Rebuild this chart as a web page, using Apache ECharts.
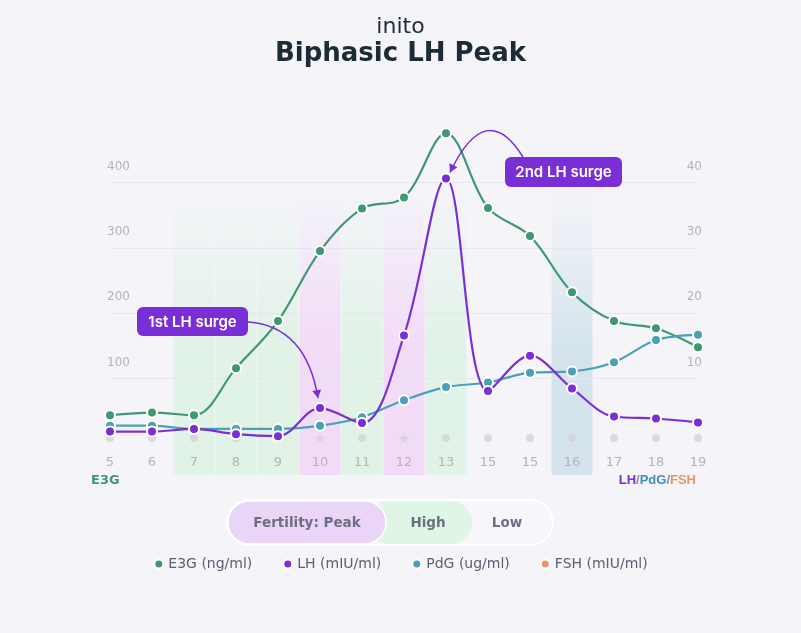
<!DOCTYPE html>
<html>
<head>
<meta charset="utf-8">
<script src="https://cdn.jsdelivr.net/npm/echarts@6/dist/echarts.min.js"></script>
<style>
  html, body { margin: 0; padding: 0; background: #f4f4f9; }
  #chart { width: 801px; height: 633px; }
</style>
</head>
<body>
<div id="chart"></div>
<script>
// cycle days shown on the x axis (15 appears twice in the source)
const days = ['5', '6', '7', '8', '9', '10', '11', '12', '13', '15', '15', '16', '17', '18', '19']
const e3g = [44, 48, 44, 116, 188, 295, 360, 377, 475, 361, 318, 232, 188, 177, 148]
const lh = [1.9, 1.9, 2.3, 1.5, 1.2, 5.5, 3.2, 16.6, 40.6, 8.1, 13.5, 8.5, 4.2, 3.9, 3.3]
const pdg = [2.8, 2.8, 2.3, 2.3, 2.3, 2.8, 4.1, 6.7, 8.7, 9.4, 10.9, 11.1, 12.5, 15.9, 16.7]
const fsh = []
// fertility level per day: '' none, 'high', 'peak', 'low'
const fertility = ['', '', 'high', 'high', 'high', 'peak', 'high', 'peak', 'high', '', '', 'low', '', '', '']
const testMarks = [9, 9, 9, 9, 9, 9, 9, 9, 9, 9, 9, 9, 9, 9, 9]
const leftTicks = [0, 500, 100]
const rightTicks = [0, 50, 10]
// LH surges that get a callout: day index on the axis
const surges = [{ idx: 5, text: '1st LH surge' }, { idx: 8, text: '2nd LH surge' }]

const C = {
  e3g: '#3f9873', lh: '#7a2ed6', pdg: '#4aa0b6', fsh: '#e8956b',
  grid: '#e6e7ee', label: '#b2b4be', text: '#6c7083'
}
const FONT = 'DejaVu Sans'

const bandColor = {
  high: ['rgba(225,242,231,0)', 'rgba(225,242,231,1)'],
  peak: ['rgba(242,219,247,0)', 'rgba(242,219,247,1)'],
  low: ['rgba(213,228,236,0)', 'rgba(213,228,236,1)']
}
const bandData = fertility.map(f => f ? {
  value: 1,
  itemStyle: {
    color: {
      type: 'linear', x: 0, y: 0, x2: 0, y2: 1,
      colorStops: [
        { offset: 0, color: bandColor[f][0] },
        { offset: 0.2, color: bandColor[f][0] },
        { offset: 0.65, color: bandColor[f][1] },
        { offset: 1, color: bandColor[f][1] }
      ]
    }
  }
} : '-')

const marks = testMarks.map((v, i) => ({
  value: v,
  symbol: fertility[i] === 'peak' ? 'path://M50,0 L61,35 L98,35 L68,57 L79,91 L50,70 L21,91 L32,57 L2,35 L39,35 Z' : 'circle',
  symbolSize: fertility[i] === 'peak' ? 12 : 8
}))

const lineSeries = (name, data, color, yIdx, extra) => Object.assign({
  name, type: 'line', data, xAxisIndex: 0, yAxisIndex: yIdx,
  smooth: 0.35, symbol: 'circle', symbolSize: 10, z: 5,
  lineStyle: { color, width: 2.2 },
  itemStyle: { color, borderColor: '#fff', borderWidth: 2 },
  emphasis: { disabled: true }
}, extra || {})

const chart = echarts.init(document.getElementById('chart'), null, { renderer: 'canvas' })

const txt = (x, y, text) => ({
  type: 'text', x, y, z: 33,
  style: { text, fontSize: 13.5, fontWeight: 'bold', fontFamily: FONT, fill: C.text, align: 'center', verticalAlign: 'middle' }
})

const staticGraphics = [
  {
    type: 'text', left: 'center', top: 16, z: 30,
    style: { text: 'inito', fontSize: 22, fontFamily: FONT, fill: '#1f2d38' }
  },
  {
    type: 'text', left: 'center', top: 41, z: 30,
    style: { text: 'Biphasic LH Peak', fontSize: 26, fontWeight: 'bold', fontFamily: FONT, fill: '#1d2b36' }
  },
  {
    type: 'text', left: 91, top: 474, z: 30,
    style: { text: 'E3G', fontSize: 13, fontWeight: 'bold', fontFamily: FONT, fill: C.e3g }
  },
  {
    type: 'text', right: 105, top: 474, z: 30,
    style: {
      text: '{a|LH}{s|/}{b|PdG}{s|/}{c|FSH}',
      fontSize: 13, fontWeight: 'bold', fontFamily: FONT,
      rich: {
        a: { fill: C.lh, fontSize: 13, fontWeight: 'bold' },
        b: { fill: '#3f8fb8', fontSize: 13, fontWeight: 'bold' },
        c: { fill: C.fsh, fontSize: 13, fontWeight: 'bold' },
        s: { fill: '#8a8ca0', fontSize: 13, fontWeight: 'bold' }
      }
    }
  },
  // fertility key
  {
    type: 'group', x: 227, y: 500,
    children: [
      { type: 'rect', z: 30, shape: { x: 0, y: 0, width: 326, height: 45, r: 22.5 }, style: { fill: '#f7f7fb', stroke: '#ffffff', lineWidth: 2 } },
      { type: 'rect', z: 31, shape: { x: 140, y: 1, width: 105, height: 43, r: 21.5 }, style: { fill: '#dff5e5' } },
      { type: 'rect', z: 32, shape: { x: 1, y: 1, width: 158, height: 43, r: 21.5 }, style: { fill: '#ead5f6', stroke: '#ffffff', lineWidth: 1.5 } },
      txt(80, 23, 'Fertility: Peak'),
      txt(201, 23, 'High'),
      txt(280, 23, 'Low')
    ]
  }
]

chart.setOption({
  backgroundColor: '#f4f4f9',
  animation: false,
  textStyle: { fontFamily: FONT },
  grid: [
    { left: 110, right: 103, top: 117, bottom: 189 },
    { left: 110, right: 103, top: 117, bottom: 158 }
  ],
  xAxis: [
    {
      type: 'category', data: days, boundaryGap: false, gridIndex: 0, z: 4,
      axisLine: { show: false }, axisTick: { show: false },
      axisLabel: { color: C.label, fontSize: 13, margin: 12, fontFamily: FONT }
    },
    {
      type: 'category', data: days, boundaryGap: false, gridIndex: 1, show: false
    }
  ],
  yAxis: [
    {
      type: 'value', gridIndex: 0, min: leftTicks[0], max: leftTicks[1], interval: leftTicks[2], z: 4,
      axisLine: { show: false }, axisTick: { show: false },
      splitLine: { lineStyle: { color: C.grid, width: 1 }, showMinLine: false, showMaxLine: false },
      axisLabel: {
        color: C.label, fontSize: 12, align: 'left', margin: 3,
        verticalAlign: 'bottom', padding: [0, 0, 10, 0],
        showMinLabel: false, showMaxLabel: false
      }
    },
    {
      type: 'value', gridIndex: 0, position: 'right', z: 4,
      min: rightTicks[0], max: rightTicks[1], interval: rightTicks[2],
      axisLine: { show: false }, axisTick: { show: false }, splitLine: { show: false },
      axisLabel: {
        color: C.label, fontSize: 12, align: 'right', margin: 4,
        verticalAlign: 'bottom', padding: [0, 0, 10, 0],
        showMinLabel: false, showMaxLabel: false
      }
    },
    { type: 'value', gridIndex: 1, min: 0, max: 1, show: false }
  ],
  legend: {
    bottom: 57, left: 'center', icon: 'circle', itemWidth: 9, itemHeight: 9, itemGap: 30,
    data: ['E3G (ng/ml)', 'LH (mIU/ml)', 'PdG (ug/ml)', 'FSH (mIU/ml)'],
    textStyle: { color: '#5d6070', fontSize: 14, fontFamily: FONT },
    selectedMode: false
  },
  series: [
    {
      type: 'bar', xAxisIndex: 1, yAxisIndex: 2, data: bandData,
      barWidth: 41, silent: true, z: 0
    },
    {
      type: 'scatter', xAxisIndex: 0, yAxisIndex: 0, data: marks, silent: true, z: 3,
      itemStyle: { color: '#d2d2d8' }
    },
    lineSeries('E3G (ng/ml)', e3g, C.e3g, 0),
    lineSeries('PdG (ug/ml)', pdg, C.pdg, 1),
    lineSeries('LH (mIU/ml)', lh, C.lh, 1, { z: 6 }),
    lineSeries('FSH (mIU/ml)', fsh, C.fsh, 1)
  ],
  graphic: staticGraphics
})

// callouts: curved arrows pointing at the LH surge points
function arrowHead(x, y, fromX, fromY) {
  const a = Math.atan2(y - fromY, x - fromX)
  const L = 8, W = 4.5
  const bx = x - L * Math.cos(a), by = y - L * Math.sin(a)
  return [[x, y], [bx + W * Math.sin(a), by - W * Math.cos(a)], [bx - W * Math.sin(a), by + W * Math.cos(a)]]
}

function callout(box, text, start, cp, tip) {
  return [
    {
      type: 'bezierCurve', z: 35,
      shape: { x1: start[0], y1: start[1], x2: tip[0], y2: tip[1], cpx1: cp[0], cpy1: cp[1] },
      style: { stroke: C.lh, lineWidth: 1.5, fill: null }
    },
    {
      type: 'polygon', z: 35,
      shape: { points: arrowHead(tip[0], tip[1], cp[0], cp[1]) },
      style: { fill: C.lh }
    },
    {
      type: 'group', x: box[0], y: box[1],
      children: [
        { type: 'rect', z: 40, shape: { x: 0, y: 0, width: box[2], height: box[3], r: 6 }, style: { fill: C.lh } },
        { type: 'text', z: 41, x: box[2] / 2, y: box[3] / 2 + 0.5, style: { text, fontSize: 15, fontWeight: 600, fontFamily: 'Inter', fill: '#fff', align: 'center', verticalAlign: 'middle' } }
      ]
    }
  ]
}

const p1 = chart.convertToPixel({ xAxisIndex: 0, yAxisIndex: 1 }, [surges[0].idx, lh[surges[0].idx]])
const p2 = chart.convertToPixel({ xAxisIndex: 0, yAxisIndex: 1 }, [surges[1].idx, lh[surges[1].idx]])
const tip1 = [p1[0] - 2, p1[1] - 10]
const tip2 = [p2[0] + 4, p2[1] - 6]

chart.setOption({
  graphic: staticGraphics
    .concat(callout([137, 307, 111, 29], surges[0].text, [248, 322], [tip1[0] - 12, 326], tip1))
    .concat(callout([505, 157, 117, 30], surges[1].text, [523, 157], [tip2[0] + 36, 97], tip2))
}, { replaceMerge: ['graphic'] })
</script>
</body>
</html>
